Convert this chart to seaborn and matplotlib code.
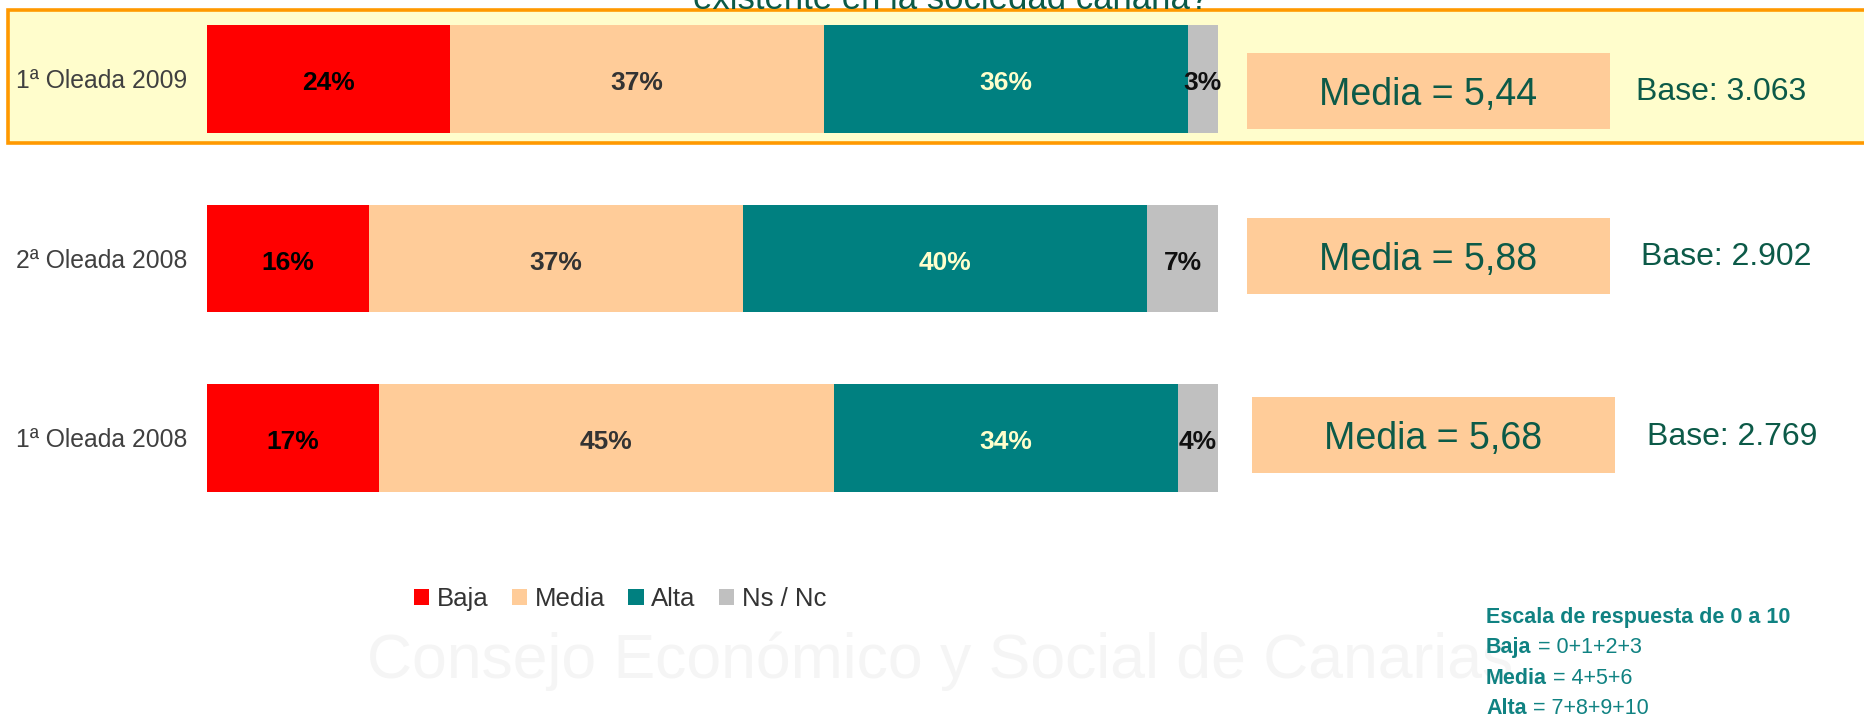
import numpy as np
import pandas as pd
import matplotlib
matplotlib.use("Agg")
import matplotlib.pyplot as plt
from matplotlib.patches import Rectangle, Patch
import seaborn as sns

# ---- data ----
oleadas = ["1ª Oleada 2009", "2ª Oleada 2008", "1ª Oleada 2008"]
categorias = ["Baja", "Media", "Alta", "Ns / Nc"]
baja = [24, 16, 17]
media = [37, 37, 45]
alta = [36, 40, 34]
nsnc = [3, 7, 4]
medias = [5.44, 5.88, 5.68]
bases = [3063, 2902, 2769]
titulo = "existente en la sociedad canaria?"
escala_titulo = "Escala de respuesta de 0 a 10"
escala_items = [("Baja", " = 0+1+2+3"), ("Media", " = 4+5+6"), ("Alta", " = 7+8+9+10")]
marca_agua = "Consejo Económico y Social de Canarias"

# ---- style ----
colores = ["#FF0000", "#FFCC99", "#008080", "#C0C0C0"]
color_etiquetas = ["#000000", "#333333", "#FFFFCC", "#111111"]
verde = "#0C5A48"
teal = "#108282"

sns.set_theme(style="white")
plt.rcParams["font.family"] = ["Liberation Sans", "DejaVu Sans"]

W, H = 1865, 716
fig = plt.figure(figsize=(W / 100, H / 100), dpi=100)
fig.patch.set_facecolor("white")

# background layer in pixel coordinates (y grows downwards)
bg = fig.add_axes([0, 0, 1, 1], zorder=0)
bg.set_xlim(0, W)
bg.set_ylim(H, 0)
bg.axis("off")

bg.text(940, 678, marca_agua, ha="center", va="baseline", fontsize=45,
        color="#F5F5F5", zorder=0)

# highlighted row
bg.add_patch(Rectangle((8, 10), W, 133, facecolor="#FFFDCC",
                       edgecolor="#FF9900", lw=2.6, zorder=1))
bg.text(951, 9, titulo, ha="center", va="baseline", fontsize=25,
        color=verde, zorder=3)

# ---- stacked bars ----
df = pd.DataFrame({"oleada": oleadas, "Baja": baja, "Media": media,
                   "Alta": alta, "Ns / Nc": nsnc})
acum = df[categorias].cumsum(axis=1)

x0, x1 = 207, 1218
ax = fig.add_axes([x0 / W, 0, (x1 - x0) / W, 1], zorder=2)
ax.patch.set_alpha(0)
for cat, col in reversed(list(zip(categorias, colores))):
    sns.barplot(x=acum[cat], y=df["oleada"], order=oleadas, orient="h",
                color=col, saturation=1, width=0.6, errorbar=None,
                edgecolor="none", linewidth=0, ax=ax)

ax.set_xlim(0, 100)
row_px = 179.5
ax.set_ylim(2 + (H - 438) / row_px, -79 / row_px)
for s in ax.spines.values():
    s.set_visible(False)
ax.set_xticks([])
ax.set_yticks([])
ax.set_xlabel("")
ax.set_ylabel("")

# row labels, right-aligned just left of the bars
for i, nombre in enumerate(oleadas):
    ax.annotate(nombre, xy=(0, i), xytext=(-20, -9), textcoords="offset pixels",
                ha="right", va="baseline", fontsize=17.8, color="#404040")

# segment percentages
for i in range(len(oleadas)):
    for j, cat in enumerate(categorias):
        v = df.loc[i, cat]
        centro = acum.loc[i, cat] - v / 2
        ax.annotate(f"{v}%", xy=(centro, i), xytext=(0, -11),
                    textcoords="offset pixels", ha="center", va="baseline",
                    fontsize=19, fontweight="bold", color=color_etiquetas[j])

# ---- media boxes and bases ----
cajas = [(1247, 53), (1247, 218), (1252, 397)]
media_base = [105, 270, 449]
base_xy = [(1721, 100), (1726, 265), (1732, 445)]
for (bx, by), m, my, (tx, ty), b in zip(cajas, medias, media_base, base_xy, bases):
    bg.add_patch(Rectangle((bx, by), 363, 76, facecolor="#FFCC99",
                           edgecolor="none", zorder=2))
    bg.text(bx + 181, my, f"Media = {m:.2f}".replace(".", ","),
            ha="center", va="baseline", fontsize=27, color=verde, zorder=3)
    bg.text(tx, ty, f"Base: {b:,}".replace(",", "."), ha="center",
            va="baseline", fontsize=23, color=verde, zorder=3)

# ---- legend ----
handles = [Patch(facecolor=c, edgecolor="none", label=l)
           for c, l in zip(colores, categorias)]
leg = fig.legend(handles=handles, loc="center", bbox_to_anchor=(620 / W, 1 - 599 / H),
                 ncol=4, frameon=False, fontsize=18.5, handlelength=0.6,
                 handleheight=0.6, handletextpad=0.3, columnspacing=0.9)
for t in leg.get_texts():
    t.set_color("#333333")

# ---- scale note ----
bg.text(1486, 623, escala_titulo, ha="left", va="baseline", fontsize=15.5,
        fontweight="bold", color=teal, zorder=3)
for k, (neg, resto) in enumerate(escala_items):
    y = 653 + k * 30.5
    t = bg.text(1486, y, neg, ha="left", va="baseline", fontsize=15.5,
                fontweight="bold", color=teal, zorder=3)
    bg.annotate(resto, xy=(1, 0), xycoords=t, ha="left", va="bottom",
                fontsize=15.5, color=teal, zorder=3)

fig.savefig("out.png", dpi=100, facecolor="white")
